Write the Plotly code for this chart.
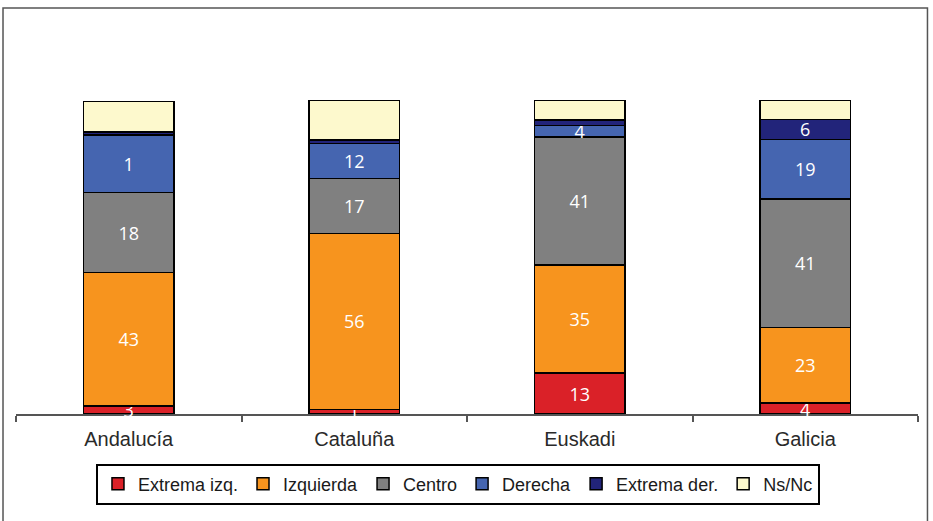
import plotly.graph_objects as go

categories = ["Andalucía", "Cataluña", "Euskadi", "Galicia"]

series_names = ["Extrema izq.", "Izquierda", "Centro", "Derecha", "Extrema der.", "Ns/Nc"]

extrema_izq = [2.6, 1.5, 13, 3.5]
izquierda = [42.5, 56, 34.4, 24]
centro = [25.4, 17.5, 40.8, 41]
derecha = [18.3, 11.2, 3.7, 19]
extrema_der = [1.0, 1.0, 1.8, 6.3]
ns_nc = [9.7, 12.8, 6.2, 6.2]

extrema_izq_labels = ["3", "1", "13", "4"]
izquierda_labels = ["43", "56", "35", "23"]
centro_labels = ["18", "17", "41", "41"]
derecha_labels = ["1", "12", "4", "19"]
extrema_der_labels = ["", "", "", "6"]
ns_nc_labels = ["", "", "", ""]

series_values = [extrema_izq, izquierda, centro, derecha, extrema_der, ns_nc]
series_labels = [extrema_izq_labels, izquierda_labels, centro_labels,
                 derecha_labels, extrema_der_labels, ns_nc_labels]
colors = ["#DA2128", "#F7941E", "#808080", "#4565B0", "#22247A", "#FDF9CD"]

fig = go.Figure()
for name, vals, labs, col in zip(series_names, series_values, series_labels, colors):
    fig.add_trace(go.Bar(
        x=categories, y=vals, name=name,
        text=labs, textposition="inside", insidetextanchor="middle",
        constraintext="none", textangle=0, cliponaxis=False,
        textfont=dict(family="Open Sans", size=18, color="white"),
        marker=dict(color=col, line=dict(color="black", width=1.5)),
        width=0.4,
    ))

fig.update_layout(
    barmode="stack",
    width=933, height=521,
    margin=dict(l=16, r=15, t=100, b=107, autoexpand=False),
    paper_bgcolor="white", plot_bgcolor="white",
    showlegend=True,
    legend=dict(
        orientation="h", x=0.49, xanchor="center", y=-0.158, yanchor="top",
        font=dict(family="Liberation Sans", size=18, color="#1a1a1a"),
        bordercolor="black", borderwidth=2, bgcolor="white",
        traceorder="normal",
    ),
    xaxis=dict(
        type="category", range=[-0.5, 3.5],
        showline=True, linecolor="#555", linewidth=1.5, layer="below traces",
        ticks="outside", tickson="boundaries", ticklen=6, tickcolor="#555", tickwidth=1.5,
        tickfont=dict(family="Liberation Sans", size=20, color="#2a2a2a"),
        ticklabelstandoff=6,
        showgrid=False, fixedrange=True,
    ),
    yaxis=dict(range=[0, 100], visible=False, showgrid=False, fixedrange=True),
    shapes=[dict(type="rect", xref="paper", yref="paper",
                 x0=-0.0144, x1=1.0105, y0=-0.5, y1=1.293,
                 line=dict(color="#555", width=1.5), fillcolor="rgba(0,0,0,0)",
                 layer="below")],
)

fig.write_html("out.html", config={"displayModeBar": False},
               post_script="document.body.style.margin='0';")
